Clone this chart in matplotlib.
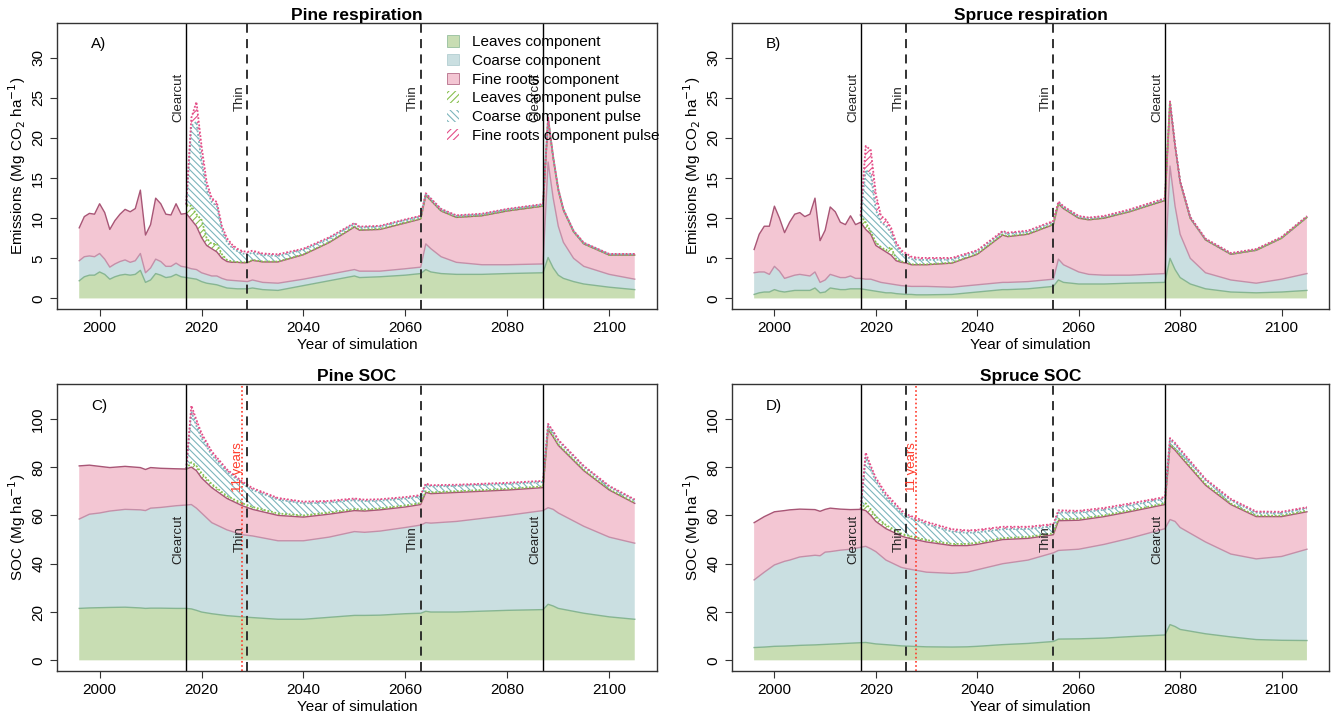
import numpy as np
import matplotlib
matplotlib.use("Agg")
import matplotlib.pyplot as plt
from matplotlib.patches import Patch

plt.rcParams['font.family'] = ['Liberation Sans', 'DejaVu Sans']
plt.rcParams['hatch.linewidth'] = 0.8

# ---------------- data ----------------
# A) Pine respiration (Mg CO2 / ha)
years_a = list(range(1996, 2031)) + [2032, 2035, 2040, 2045, 2050, 2051, 2055, 2060, 2063,
                                     2064, 2065, 2067, 2070, 2075, 2080, 2087,
                                     2088, 2089, 2090, 2091, 2093, 2095, 2100, 2105]
leaves_a = [2.2, 2.7, 2.9, 2.9, 3.3, 3.0, 2.4, 2.7, 2.9, 3.0, 2.9, 3.0, 3.5, 2.0, 2.3, 3.1, 2.9, 2.6,
            2.7, 3.0, 2.7, 2.6, 2.5, 2.4, 2.1, 1.9, 1.8, 1.7, 1.5, 1.3, 1.25, 1.2, 1.2, 1.2, 1.3,
            1.1, 1.0, 1.6, 2.2, 2.8, 2.6, 2.7, 2.9, 3.1, 3.6, 3.3, 3.1, 3.0, 3.0, 3.1, 3.2,
            5.1, 3.8, 2.9, 2.5, 2.1, 1.8, 1.4, 1.1]
coarse_a = [2.5, 2.5, 2.4, 2.3, 2.3, 1.9, 1.5, 1.6, 1.7, 1.8, 1.6, 1.7, 2.1, 1.2, 1.5, 1.8, 1.7, 1.4,
            1.3, 1.4, 1.3, 1.3, 1.2, 1.2, 1.1, 1.1, 1.0, 1.1, 1.0, 1.0, 1.0, 1.0, 0.95, 0.9, 1.0,
            0.9, 0.9, 0.8, 0.8, 0.8, 0.8, 0.7, 0.8, 0.8, 3.2, 2.9, 2.1, 1.5, 1.2, 1.1, 1.1,
            11.9, 8.7, 6.1, 4.5, 2.9, 2.2, 1.6, 1.3]
fine_a = [4.1, 5.0, 5.3, 5.3, 6.2, 5.8, 4.7, 5.4, 5.9, 6.3, 6.3, 6.5, 7.9, 4.7, 5.4, 7.6, 7.2, 6.5,
          6.4, 7.4, 6.5, 6.7, 6.1, 5.4, 4.4, 3.6, 3.4, 3.0, 2.5, 2.3, 2.25, 2.3, 2.3, 2.35, 2.45,
          2.55, 2.65, 3.05, 3.95, 5.3, 5.1, 5.2, 5.7, 6.0, 6.05, 6.0, 5.7, 5.6, 6.1, 6.7, 7.2,
          5.4, 5.0, 4.5, 4.0, 3.3, 2.8, 2.4, 3.0]
leaves_pulse_a = [0.0] * 21 + [1.1, 1.7, 1.5, 2.2, 0.9, 0.6, 1.0, 0.5, 0.2, 0.1, 0.05, 0.05, 0.05, 0.05,
                               0.05, 0.05, 0.05, 0.05, 0.05, 0.05, 0.05, 0.05, 0.05,
                               0.03, 0.03, 0.03, 0.03, 0.03, 0.03, 0.03,
                               0.02, 0.02, 0.02, 0.02, 0.02, 0.02, 0.02, 0.02]
coarse_pulse_a = [0.0] * 21 + [0.0, 10.0, 11.5, 7.2, 6.0, 5.2, 4.7, 3.0, 2.2, 1.7, 1.35, 1.1, 1.0, 0.9,
                               0.8, 0.7, 0.55, 0.45, 0.35, 0.3, 0.3, 0.3, 0.25,
                               0.15, 0.15, 0.15, 0.15, 0.15, 0.15, 0.15,
                               0.08, 0.08, 0.08, 0.08, 0.08, 0.08, 0.08, 0.08]
fine_pulse_a = [0.0] * 21 + [0.0, 1.0, 2.5, 2.0, 1.0, 0.5, 0.5, 0.5, 0.5, 0.4, 0.3, 0.3, 0.3, 0.25,
                             0.2, 0.2, 0.15, 0.15, 0.1, 0.1, 0.1, 0.1, 0.1,
                             0.08, 0.08, 0.08, 0.08, 0.08, 0.08, 0.08,
                             0.05, 0.05, 0.05, 0.05, 0.05, 0.05, 0.05, 0.05]

# B) Spruce respiration
years_b = list(range(1996, 2031)) + [2035, 2040, 2045, 2046, 2050, 2055, 2056, 2057, 2060, 2062,
                                     2065, 2070, 2077, 2078, 2079, 2080, 2082, 2085, 2090, 2095,
                                     2100, 2105]
leaves_b = [0.5, 0.7, 0.8, 0.8, 1.1, 0.9, 0.8, 0.9, 1.0, 1.0, 1.0, 1.0, 1.3, 0.7, 0.8, 1.3, 1.2, 1.1,
            1.1, 1.2, 1.2, 1.2, 1.1, 1.0, 0.9, 0.8, 0.7, 0.7, 0.6, 0.55, 0.5, 0.5, 0.45, 0.45, 0.45,
            0.5, 0.8, 1.1, 1.1, 1.2, 1.5, 2.3, 2.0, 1.8, 1.8, 1.8, 1.9, 2.0, 5.0, 3.6, 2.6, 1.8,
            1.2, 0.8, 0.7, 0.8, 1.0]
coarse_b = [2.7, 2.6, 2.5, 2.2, 2.9, 2.5, 1.7, 1.8, 1.9, 2.0, 1.9, 1.8, 2.0, 1.3, 1.5, 1.7, 1.6, 1.5,
            1.5, 1.6, 1.3, 1.3, 1.3, 1.4, 1.3, 1.2, 1.2, 1.1, 1.1, 1.05, 1.05, 1.0, 1.05, 1.05, 1.05,
            0.9, 0.9, 0.9, 0.9, 0.9, 0.9, 2.6, 2.2, 1.5, 1.2, 1.1, 1.0, 1.1, 11.5, 7.9, 5.4, 3.2,
            2.0, 1.5, 1.2, 1.6, 2.1]
fine_b = [2.9, 4.7, 5.7, 6.0, 7.5, 6.6, 5.7, 6.8, 7.6, 7.7, 7.3, 7.7, 9.2, 5.2, 6.2, 8.4, 8.0, 6.9,
          6.6, 7.5, 6.7, 7.0, 6.2, 5.6, 4.4, 4.2, 3.9, 3.6, 3.0, 2.9, 2.85, 2.7, 2.7, 2.7, 2.7,
          3.0, 3.8, 5.9, 5.7, 5.9, 6.8, 6.9, 7.0, 6.7, 6.8, 7.1, 7.9, 9.1, 7.9, 7.5, 6.5, 5.0,
          4.1, 3.2, 4.1, 5.1, 7.0]
leaves_pulse_b = [0.0] * 21 + [0.8, 0.9, 0.3, 0.4, 0.2, 0.2, 1.0, 0.2, 0.1, 0.1, 0.05, 0.05, 0.05, 0.05,
                               0.05, 0.05, 0.05, 0.05, 0.05, 0.05,
                               0.03, 0.03, 0.03, 0.03, 0.03, 0.03, 0.03,
                               0.02, 0.02, 0.02, 0.02, 0.02, 0.02, 0.02, 0.02, 0.02]
coarse_pulse_b = [0.0] * 21 + [0.0, 6.5, 7.2, 4.0, 3.1, 3.0, 1.8, 1.6, 1.0, 0.7, 0.65, 0.6, 0.55, 0.55,
                               0.4, 0.3, 0.3, 0.3, 0.25, 0.25,
                               0.15, 0.15, 0.15, 0.15, 0.15, 0.15, 0.15,
                               0.08, 0.08, 0.08, 0.08, 0.08, 0.08, 0.08, 0.08, 0.08]
fine_pulse_b = [0.0] * 21 + [0.0, 3.0, 3.0, 2.0, 0.8, 0.8, 0.6, 0.5, 0.4, 0.4, 0.3, 0.25, 0.25, 0.25,
                             0.2, 0.15, 0.15, 0.15, 0.15, 0.15,
                             0.1, 0.1, 0.1, 0.1, 0.1, 0.1, 0.1,
                             0.06, 0.06, 0.06, 0.06, 0.06, 0.06, 0.06, 0.06, 0.06]

# C) Pine SOC (Mg / ha)
years_c = [1996, 1998, 2000, 2002, 2005, 2008, 2009, 2010, 2012, 2015, 2017, 2018, 2019, 2020,
           2022, 2025, 2028, 2030, 2035, 2040, 2045, 2050, 2052, 2055, 2060, 2063, 2064, 2065,
           2070, 2080, 2087, 2088, 2089, 2090, 2095, 2100, 2105]
leaves_c = [21.5, 21.7, 21.8, 21.9, 22.0, 21.7, 21.5, 21.6, 21.6, 21.5, 21.5, 21.3, 20.7, 20.0,
            19.3, 18.5, 18.0, 17.7, 17.0, 17.0, 17.8, 18.6, 18.6, 18.7, 19.3, 19.5, 20.3, 20.0,
            20.0, 20.7, 21.0, 23.2, 22.5, 21.5, 19.5, 18.0, 17.0]
coarse_c = [37.0, 38.8, 39.2, 39.9, 40.5, 40.6, 40.5, 41.4, 41.7, 42.5, 42.8, 43.2, 42.3, 41.0,
            37.7, 35.5, 34.0, 33.8, 32.5, 32.5, 33.2, 34.7, 34.4, 34.8, 35.7, 36.5, 36.7, 36.8,
            37.5, 39.3, 41.0, 40.0, 40.0, 39.5, 36.0, 33.0, 31.5]
fine_c = [22.0, 20.3, 19.3, 18.0, 17.8, 17.5, 17.0, 16.8, 16.2, 15.3, 14.9, 15.5, 15.5, 14.5,
          14.5, 13.0, 12.0, 11.0, 10.5, 9.8, 9.5, 8.7, 8.8, 8.8, 8.5, 8.5, 12.5, 12.2,
          12.0, 10.5, 9.5, 32.3, 30.0, 28.0, 23.0, 19.5, 16.5]
leaves_pulse_c = [0.0] * 11 + [2.0, 2.0, 2.0, 1.5, 1.0, 1.0, 1.0, 0.8, 0.7, 0.7, 0.6, 0.6, 0.6, 0.6,
                               0.6, 0.5, 0.5, 0.5, 0.5, 0.5, 0.4, 0.4, 0.4, 0.4, 0.3, 0.3]
coarse_pulse_c = [0.0] * 11 + [21.0, 16.5, 14.5, 12.0, 10.0, 8.2, 7.0, 5.7, 5.0, 4.1, 3.7, 3.5, 3.2,
                               2.9, 2.7, 2.6, 2.5, 2.2, 2.0, 1.8, 1.5, 1.5, 1.4, 1.2, 1.0, 0.9]
fine_pulse_c = [0.0] * 11 + [2.5, 2.5, 2.0, 1.5, 1.0, 0.8, 0.8, 0.7, 0.7, 0.7, 0.7, 0.6, 0.6, 0.6,
                             0.6, 0.6, 0.5, 0.5, 0.5, 0.5, 0.5, 0.5, 0.5, 0.4, 0.4, 0.4]

# D) Spruce SOC
years_d = [1996, 1998, 2000, 2002, 2003, 2005, 2008, 2009, 2010, 2011, 2013, 2015, 2017, 2018,
           2019, 2020, 2022, 2025, 2026, 2030, 2035, 2038, 2040, 2045, 2050, 2055, 2056, 2060,
           2065, 2070, 2077, 2078, 2079, 2080, 2085, 2090, 2095, 2100, 2105]
leaves_d = [5.3, 5.5, 5.8, 5.9, 6.0, 6.2, 6.4, 6.5, 6.6, 6.7, 6.9, 7.1, 7.3, 7.4,
            7.1, 6.8, 6.5, 6.0, 5.9, 5.6, 5.5, 5.6, 5.8, 6.5, 7.0, 7.8, 8.8, 8.9,
            9.2, 9.8, 10.5, 14.8, 14.0, 12.8, 11.0, 9.7, 8.6, 8.3, 8.2]
coarse_d = [28.0, 31.0, 33.7, 35.1, 35.5, 36.6, 37.1, 36.8, 38.2, 38.3, 38.7, 38.9, 39.5, 39.8,
            39.1, 38.2, 35.0, 32.5, 32.1, 30.9, 30.5, 30.9, 31.7, 33.5, 34.5, 36.7, 36.7, 37.1,
            38.8, 40.7, 44.0, 43.5, 43.5, 42.2, 38.0, 34.3, 33.4, 34.7, 37.8]
fine_d = [23.7, 23.0, 22.0, 21.0, 20.8, 19.8, 18.9, 18.4, 17.7, 18.0, 17.0, 16.4, 15.7, 14.8,
          13.8, 12.5, 13.0, 13.0, 12.8, 12.5, 11.5, 11.0, 10.5, 10.0, 9.0, 7.5, 12.3, 12.0,
          11.5, 11.0, 10.0, 30.7, 29.5, 29.5, 23.5, 20.5, 17.5, 16.5, 15.5]
leaves_pulse_d = [0.0] * 13 + [3.0, 2.5, 2.0, 1.5, 1.0, 1.0, 0.8, 0.7, 0.7, 0.7, 0.6, 0.6, 0.6, 0.6,
                               0.6, 0.5, 0.5, 0.5, 0.5, 0.5, 0.5, 0.5, 0.4, 0.4, 0.4, 0.4]
coarse_pulse_d = [0.0] * 13 + [19.0, 16.5, 14.5, 11.5, 8.5, 7.7, 6.5, 5.1, 4.6, 4.3, 3.7, 3.3, 2.9,
                               2.8, 2.5, 2.3, 2.1, 1.9, 1.8, 1.8, 1.7, 1.5, 1.3, 1.2, 1.1, 1.0]
fine_pulse_d = [0.0] * 13 + [2.0, 1.5, 1.5, 1.5, 1.2, 1.0, 1.0, 1.0, 1.0, 1.0, 1.0, 0.9, 0.9,
                             0.9, 0.8, 0.8, 0.8, 0.7, 0.7, 0.7, 0.7, 0.6, 0.6, 0.5, 0.5, 0.5]

# management events
clearcut_pine = [2017, 2087]
thin_pine = [2029, 2063]
clearcut_spruce = [2017, 2077]
thin_spruce = [2026, 2055]
recovery_year = 2028   # "11 years"

# ---------------- style ----------------
LEAF, LEAF_EDGE = '#c8ddb3', '#86b592'
COARSE, COARSE_EDGE = '#cadfe1', '#c48fa8'
FINE, FINE_EDGE = '#f3c6d3', '#a85676'
LEAF_P, COARSE_P, FINE_P = '#88c050', '#7db5bc', '#e44e88'
RED = '#ff3b2b'
XLIM = (1991.64, 2109.36)
H_FWD, H_BACK = '/////', '\\\\\\\\\\'


def draw_panel(ax, yrs, base, pulse, clearcuts, thins, ylim, yticks, lab_y, title, ylabel, tag,
               red=None):
    yrs = np.asarray(yrs, dtype=float)
    tops = np.cumsum(np.vstack(base), axis=0)
    total = tops[-1]
    ptops = total + np.cumsum(np.vstack(pulse), axis=0)

    lows = [np.zeros_like(yrs), tops[0], tops[1]]
    for lo, hi, fc, ec in zip(lows, tops, [LEAF, COARSE, FINE], [LEAF_EDGE, COARSE_EDGE, FINE_EDGE]):
        ax.fill_between(yrs, lo, hi, facecolor=fc, edgecolor='none', lw=0)
        ax.plot(yrs, hi, color=ec, lw=1.0)

    m = yrs >= clearcuts[0]
    plows = [total, ptops[0], ptops[1]]
    for lo, hi, col, h in zip(plows, ptops, [LEAF_P, COARSE_P, FINE_P], [H_FWD, H_BACK, H_FWD]):
        ax.fill_between(yrs[m], lo[m], hi[m], facecolor='white', edgecolor=col, hatch=h, lw=0)
        ax.plot(yrs[m], hi[m], color=col, lw=1.3, ls=(0, (1, 1)))

    for x in clearcuts:
        ax.axvline(x, color='black', lw=1.0)
        ax.text(x - 0.3, lab_y, 'Clearcut', rotation=90, ha='right', va='center', fontsize=9.5,
                color='#222222')
    for x in thins:
        ax.axvline(x, color='#222222', lw=1.3, ls=(0, (5, 3.5)))
        ax.text(x - 0.3, lab_y, 'Thin', rotation=90, ha='right', va='center', fontsize=9.5,
                color='#222222')
    if red is not None:
        ax.axvline(red, color=RED, lw=1.2, ls=(0, (1, 1.5)))
        ax.text(red + 0.3, 80, '11 years', rotation=90, ha='right', va='center', fontsize=9.5,
                color=RED)

    ax.set_xlim(*XLIM)
    ax.set_ylim(*ylim)
    ax.set_xticks(range(2000, 2101, 20))
    ax.set_yticks(yticks)
    ax.tick_params(axis='both', direction='out', length=5, labelsize=11, color='#333333')
    for lab in ax.get_yticklabels():
        lab.set_rotation(90)
        lab.set_va('center')
    for s in ax.spines.values():
        s.set_color('#333333')
        s.set_linewidth(1.0)
    ax.set_title(title, fontsize=12.5, fontweight='bold', pad=1.5)
    ax.set_xlabel('Year of simulation', fontsize=11, labelpad=2)
    ax.set_ylabel(ylabel, fontsize=11, labelpad=2)
    ax.text(0.057, 0.925, tag, transform=ax.transAxes, fontsize=11, va='center')


fig = plt.figure(figsize=(13.38, 7.18), dpi=100)
ax_a = fig.add_axes([0.0426, 0.5696, 0.4484, 0.3983])
ax_b = fig.add_axes([0.5471, 0.5696, 0.4462, 0.3983])
ax_c = fig.add_axes([0.0426, 0.0655, 0.4484, 0.3997])
ax_d = fig.add_axes([0.5471, 0.0655, 0.4462, 0.3997])

resp_lab = 'Emissions (Mg CO$_2$ ha$^{-1}$)'
soc_lab = 'SOC (Mg ha$^{-1}$)'

draw_panel(ax_a, years_a, [leaves_a, coarse_a, fine_a],
           [leaves_pulse_a, coarse_pulse_a, fine_pulse_a],
           clearcut_pine, thin_pine, (-1.32, 34.32), range(0, 31, 5), 25,
           'Pine respiration', resp_lab, 'A)')
draw_panel(ax_b, years_b, [leaves_b, coarse_b, fine_b],
           [leaves_pulse_b, coarse_pulse_b, fine_pulse_b],
           clearcut_spruce, thin_spruce, (-1.32, 34.32), range(0, 31, 5), 25,
           'Spruce respiration', resp_lab, 'B)')
draw_panel(ax_c, years_c, [leaves_c, coarse_c, fine_c],
           [leaves_pulse_c, coarse_pulse_c, fine_pulse_c],
           clearcut_pine, thin_pine, (-4.4, 114.4), range(0, 101, 20), 50,
           'Pine SOC', soc_lab, 'C)', red=recovery_year)
draw_panel(ax_d, years_d, [leaves_d, coarse_d, fine_d],
           [leaves_pulse_d, coarse_pulse_d, fine_pulse_d],
           clearcut_spruce, thin_spruce, (-4.4, 114.4), range(0, 101, 20), 50,
           'Spruce SOC', soc_lab, 'D)', red=recovery_year)

handles = [
    Patch(facecolor=LEAF, edgecolor=LEAF_EDGE, lw=0.5, label='Leaves component'),
    Patch(facecolor=COARSE, edgecolor='#a9c8cc', lw=0.5, label='Coarse component'),
    Patch(facecolor=FINE, edgecolor=FINE_EDGE, lw=0.5, label='Fine roots component'),
    Patch(facecolor='white', edgecolor=LEAF_P, hatch=H_FWD, lw=0, label='Leaves component pulse'),
    Patch(facecolor='white', edgecolor=COARSE_P, hatch=H_BACK, lw=0, label='Coarse component pulse'),
    Patch(facecolor='white', edgecolor=FINE_P, hatch=H_FWD, lw=0, label='Fine roots component pulse'),
]
ax_a.legend(handles=handles, loc='upper left', bbox_to_anchor=(0.635, 0.99), frameon=False,
            fontsize=11, handlelength=0.8, handleheight=0.8, handletextpad=0.8,
            labelspacing=0.3, borderaxespad=0.2)

fig.savefig('out.png', dpi=100)
